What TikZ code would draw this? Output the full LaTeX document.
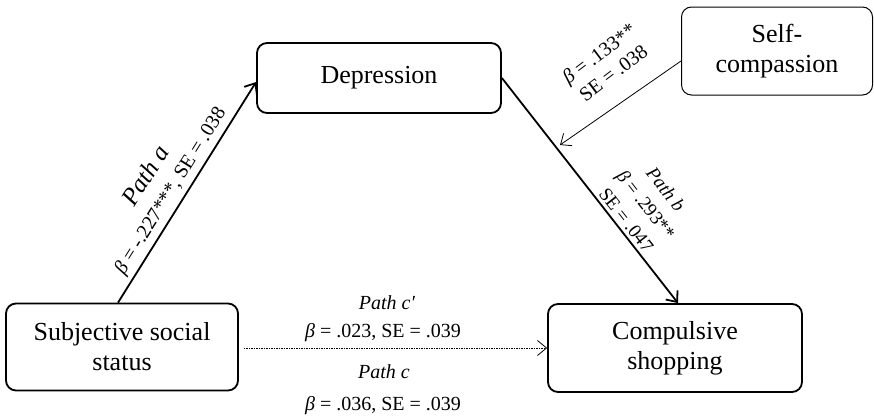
\documentclass[tikz,border=0pt]{standalone}
\usepackage{fontspec}
\setmainfont{Liberation Serif}
\usetikzlibrary{arrows.meta,calc}
\begin{document}
\begin{tikzpicture}[x=1pt,y=-1pt,
  box/.style={draw, rounded corners=10pt, line width=1.8pt, align=center,
    font=\fontsize{26}{30}\selectfont, inner sep=0pt},
  lbl/.style={font=\fontsize{20}{23}\selectfont, align=center, inner sep=1pt},
  bigtip/.style={-{Straight Barb[length=9pt,width=15pt,line width=1.8pt]}},
  thintip/.style={-{Straight Barb[length=9pt,width=15pt,line width=0.8pt]}}]
\useasboundingbox (0,0) rectangle (874,415);
\node[box, minimum width=244, minimum height=70] (dep) at (379,78) {Depression};
\node[box, line width=1pt, minimum width=191, minimum height=88] (self) at (777,51) {Self-\\compassion};
\node[box, minimum width=232, minimum height=87] (sss) at (122,347) {Subjective social\\status};
\node[box, minimum width=254, minimum height=88] (cs) at (675,348) {Compulsive\\shopping};
\coordinate (sct) at (560,145);
% Path a
\draw[bigtip, line width=1.8pt] ($(sss.north)+(-4,0)$) --
  node[pos=0.47, sloped, above=3pt, lbl, font=\fontsize{20}{27}\selectfont] {{\fontsize{25}{27}\selectfont\itshape Path a}\\ \textit{β} = -.227***, SE = .038}
  ($(dep.west)+(0,4)$);
% Path b
\draw[bigtip, line width=1.8pt] (dep.east) --
  node[pos=0.66, sloped, above=2pt, lbl, font=\fontsize{19}{25}\selectfont] {\textit{Path b}\\ \textit{β} = .293**\\ SE = .047}
  ($(cs.north)+(3,0)$);
% moderator
\draw[thintip, line width=0.8pt] ($(self.west)+(0,10)$) -- (sct);
\node[lbl, rotate=37, font=\fontsize{20}{24}\selectfont] (slbl) at (606,63) {\textit{β} = .133**\\ SE = .038};
% Path c
\draw[thintip, line width=0.8pt, dash pattern=on 1.5pt off 1pt] ($(sss.east)+(5,1)$) -- (cs.west);
\node[lbl, anchor=base] (pcp) at (387,309) {\textit{Path c′}};
\node[lbl, anchor=base] (bcp) at (383,337) {\textit{β} = .023, SE = .039};
\node[lbl, anchor=base] (pc) at (384,378) {\textit{Path c}};
\node[lbl, anchor=base] (bc) at (383,410) {\textit{β} = .036, SE = .039};
\end{tikzpicture}
\end{document}
